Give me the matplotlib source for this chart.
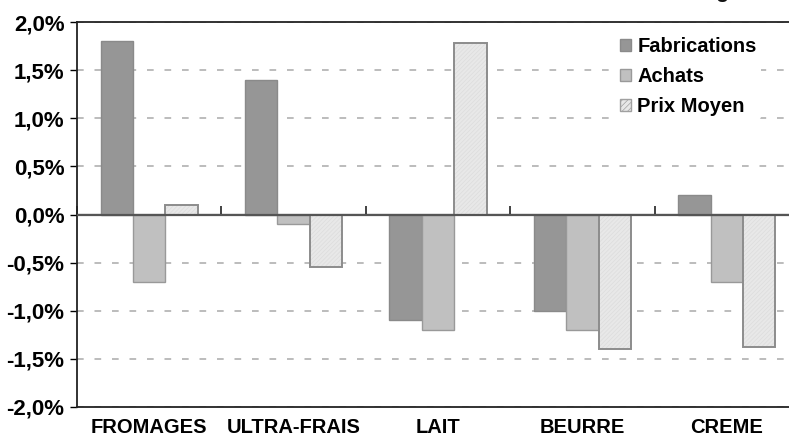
import numpy as np
import matplotlib
matplotlib.use("Agg")
import matplotlib.pyplot as plt
from matplotlib.patches import Patch

plt.rcParams['font.family'] = ['Liberation Sans', 'DejaVu Sans']
plt.rcParams['font.weight'] = 'bold'
plt.rcParams['hatch.linewidth'] = 0.5

# data (variation en %)
categories = ["FROMAGES", "ULTRA-FRAIS", "LAIT", "BEURRE", "CREME"]
fabrications = [1.8, 1.4, -1.1, -1.0, 0.2]
achats = [-0.7, -0.1, -1.2, -1.2, -0.7]
prix_moyen = [0.1, -0.55, 1.78, -1.4, -1.38]
series_names = ["Fabrications", "Achats", "Prix Moyen"]
yticks = [-2.0, -1.5, -1.0, -0.5, 0.0, 0.5, 1.0, 1.5, 2.0]
title = "Evolution des fabrications et des achats des ménages"

fig = plt.figure(figsize=(7.89, 4.45), dpi=100)
# plot area runs a little past the right edge, as in the cropped original
ax = fig.add_axes([77 / 789, 38 / 445, 722 / 789, 385 / 445])

x = np.arange(len(categories))
w = 0.224

c_fab = '#969696'
c_ach = '#c0c0c0'
c_prix = '#e8e8e8'

ax.bar(x - w, fabrications, w, color=c_fab, edgecolor='#8a8a8a', linewidth=1.0, zorder=3)
ax.bar(x, achats, w, color=c_ach, edgecolor='#999999', linewidth=1.0, zorder=3)
ax.bar(x + w, prix_moyen, w, color=c_prix, edgecolor='#dcdcdc', hatch='////////',
       linewidth=0, zorder=3)
ax.bar(x + w, prix_moyen, w, fill=False, edgecolor='#8c8c8c', linewidth=1.4, zorder=3)

ax.set_xlim(-0.5, len(categories) - 0.5)
ax.set_ylim(-2.0, 2.0)
ax.set_yticks(yticks)
ax.set_yticklabels([("%.1f%%" % v).replace('.', ',') for v in yticks])
ax.tick_params(axis='y', direction='out', length=5, width=1, pad=4, labelsize=16)

ax.set_xticks(x)
ax.set_xticklabels(categories)
ax.tick_params(axis='x', length=0, pad=8, labelsize=14.5)

ax.yaxis.grid(True, color='#b0b0b0', linewidth=1.2, linestyle=(0, (4, 6.5)), zorder=0)
ax.set_axisbelow(True)

for side in ['top', 'bottom', 'left']:
    ax.spines[side].set_color('#222222')
    ax.spines[side].set_linewidth(1.3)
ax.spines['right'].set_visible(False)

# zero line, drawn over the bars, with category separators below it
ax.axhline(0, color='#555555', linewidth=1.6, zorder=4)
zero_ax = ax.secondary_xaxis(0.5)
zero_ax.set_xticks(np.arange(len(categories) + 1) - 0.5)
zero_ax.set_xticklabels([])
zero_ax.tick_params(direction='out', length=6, width=1.2, color='#222222')
zero_ax.spines['bottom'].set_visible(False)

handles = [
    Patch(facecolor=c_fab, edgecolor='#8a8a8a'),
    Patch(facecolor=c_ach, edgecolor='#999999'),
    Patch(facecolor=c_prix, edgecolor='#a0a0a0', hatch='//////'),
]
ax.legend(handles, series_names, loc='upper left', bbox_to_anchor=(606 / 789, 1 - 23 / 445),
          bbox_transform=fig.transFigure, frameon=True, facecolor='white', edgecolor='none',
          framealpha=1, fontsize=14.5, handlelength=0.55, handleheight=0.55,
          handletextpad=0.3, labelspacing=0.55, borderpad=0.2)

# title, mostly cut off by the top edge in the original
fig.text(752 / 789, 1 + 1.5 / 445, title, ha='right', va='baseline', fontsize=15,
         fontweight='bold', color='#111111')

fig.savefig("out.png", dpi=100)
